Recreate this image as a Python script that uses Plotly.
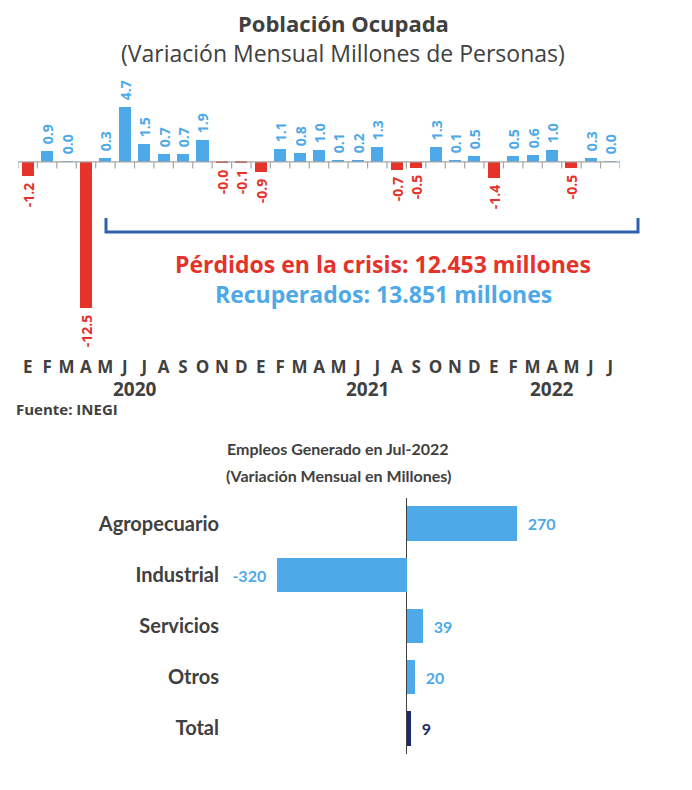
import plotly.graph_objects as go

# ---------------- data ----------------
months = ["E", "F", "M", "A", "M", "J", "J", "A", "S", "O", "N", "D",
          "E", "F", "M", "A", "M", "J", "J", "A", "S", "O", "N", "D",
          "E", "F", "M", "A", "M", "J", "J"]
years = [2020] * 12 + [2021] * 12 + [2022] * 7
values = [-1.2, 0.9, 0.03, -12.5, 0.3, 4.7, 1.5, 0.7, 0.7, 1.9, -0.04, -0.08,
          -0.9, 1.1, 0.8, 1.0, 0.1, 0.2, 1.3, -0.7, -0.5, 1.3, 0.1, 0.5,
          -1.4, 0.5, 0.6, 1.0, -0.5, 0.3, 0.02]

sectors = ["Agropecuario", "Industrial", "Servicios", "Otros", "Total"]
sector_values = [270, -320, 39, 20, 9]

title_top = "Población Ocupada"
subtitle_top = "(Variación Mensual Millones de Personas)"
lost_text = "Pérdidos en la crisis: 12.453 millones"
recovered_text = "Recuperados: 13.851 millones"
source_text = "Fuente: INEGI"
title_bottom = "Empleos Generado en Jul-2022"
subtitle_bottom = "(Variación Mensual en Millones)"

# ---------------- styles ----------------
W, H = 692, 790
BLUE = "#4DA9E8"
RED = "#E5322A"
NAVY = "#1B2A6B"
DARK = "#404040"
BRACKET = "#2F62AE"
FONT = "Open Sans"
FONT2 = "Lato"
NB = "\u00a0"


def px_x(p):
    return p / W


def px_y(p):
    return 1 - p / H


x_idx = list(range(len(values)))
bar_colors = [RED if v < 0 else BLUE for v in values]
bar_text = [(NB + f"{v:.1f}") if v >= 0 else (f"{v:.1f}" + NB) for v in values]

fig = go.Figure()

fig.add_trace(go.Bar(
    x=x_idx, y=values, marker=dict(color=bar_colors, line=dict(width=0)),
    width=0.62, text=bar_text, textposition="outside", textangle=-90,
    constraintext="none", cliponaxis=False,
    textfont=dict(family=FONT, size=14, color=bar_colors, weight="bold"),
    xaxis="x", yaxis="y", showlegend=False, hoverinfo="skip",
))

sec_colors = [NAVY if s == "Total" else BLUE for s in sectors]
sec_text = [(NB + NB + f"{v}") if v >= 0 else (f"{v}" + NB + NB) for v in sector_values]
fig.add_trace(go.Bar(
    y=sectors, x=sector_values, orientation="h", width=0.67,
    marker=dict(color=sec_colors, line=dict(width=0)),
    text=sec_text, textposition="outside", constraintext="none", cliponaxis=False,
    textfont=dict(family=FONT2, size=16, color=sec_colors, weight="bold"),
    xaxis="x2", yaxis="y2", showlegend=False, hoverinfo="skip",
))

# top axes: plot area x 18..620, y 70..355 px
n = len(values)
ymax, ymin = 7.86, -16.5
fig.update_layout(
    width=W, height=H, margin=dict(l=0, r=0, t=0, b=0),
    paper_bgcolor="white", plot_bgcolor="white",
    xaxis=dict(domain=[px_x(18), px_x(620)], range=[-0.5, n - 0.5],
               tickmode="array", tickvals=x_idx, ticktext=months,
               tickfont=dict(family=FONT, size=17, color=DARK, weight="bold"),
               showgrid=False, zeroline=False, showline=False, ticks="",
               anchor="y", fixedrange=True),
    yaxis=dict(domain=[px_y(355), px_y(70)], range=[ymin, ymax], visible=False,
               anchor="x", fixedrange=True),
    xaxis2=dict(domain=[px_x(232), px_x(660)], range=[-430, 622], showgrid=False,
                showticklabels=False, ticks="", showline=False,
                zeroline=True, zerolinecolor=DARK, zerolinewidth=1, anchor="y2"),
    yaxis2=dict(domain=[px_y(754), px_y(498)], autorange="reversed", showgrid=False,
                zeroline=False, showline=False, ticks="",
                tickfont=dict(family=FONT2, size=20, color=DARK, weight="bold"),
                ticklabelstandoff=12, anchor="x2"),
    bargap=0.0,
)

# baseline and boundary ticks for the top chart
shapes = [dict(type="line", xref="x", yref="y", x0=-0.5, x1=n - 0.5, y0=0, y1=0,
               line=dict(color="#A6A6A6", width=1.2))]
tick_path = " ".join(f"M{b - 0.5},0 L{b - 0.5},-0.55" for b in range(n + 1))
shapes.append(dict(type="path", xref="x", yref="y", path=tick_path,
                   line=dict(color="#A6A6A6", width=1.2)))
# bracket
bx0, bx1, byt, byb = px_x(106), px_x(638), px_y(218), px_y(232)
shapes.append(dict(type="path", xref="paper", yref="paper",
                   path=f"M{bx0},{byt} L{bx0},{byb} L{bx1},{byb} L{bx1},{byt}",
                   line=dict(color=BRACKET, width=3)))
fig.update_layout(shapes=shapes)


def note(text, x, y, size, color, family=FONT, xanchor="center"):
    return dict(text=text, x=px_x(x), y=px_y(y), xref="paper", yref="paper",
                xanchor=xanchor, yanchor="middle", showarrow=False,
                font=dict(family=family, size=size, color=color))


ann = [
    note(f"<b>{title_top}</b>", 343, 23, 22, DARK),
    note(subtitle_top, 343, 53, 23, DARK),
    note(f"<b>{lost_text}</b>", 383, 264, 23, RED),
    note(f"<b>{recovered_text}</b>", 383, 294, 23, BLUE),
    note(f"<b>{source_text}</b>", 14, 409, 15, DARK, xanchor="left"),
    note(f"<b>{title_bottom}</b>", 338, 448, 16, DARK, family=FONT2),
    note(f"<b>{subtitle_bottom}</b>", 338, 475, 16, DARK, family=FONT2),
]
for yr in sorted(set(years)):
    idx = [i for i, y in enumerate(years) if y == yr]
    ann.append(dict(text=f"<b>{yr}</b>", x=sum(idx) / len(idx), y=px_y(389), xref="x", yref="paper",
                    yanchor="middle", showarrow=False,
                    font=dict(family=FONT, size=19, color=DARK)))
fig.update_layout(annotations=ann)

fig.write_html("out.html")
